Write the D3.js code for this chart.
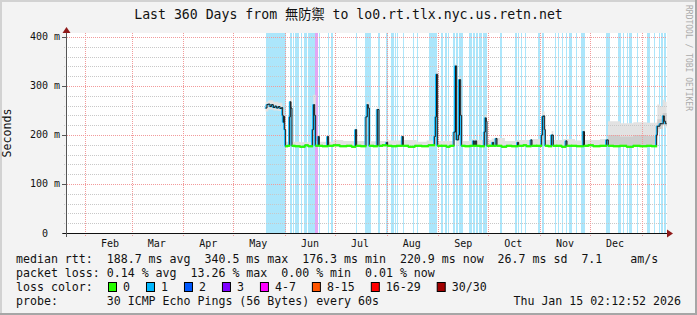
<!DOCTYPE html>
<html>
<head>
<meta charset="utf-8">
<script src="https://cdn.jsdelivr.net/npm/d3@7"></script>
<style>
  body { margin: 0; background: #f3f3f3; }
  svg { display: block; }
  text { font-family: "DejaVu Sans Mono", "Noto Sans CJK JP", monospace; fill: #111; white-space: pre; }
</style>
</head>
<body>
<div id="wrapper"></div>
<script>
// all times are day-of-year 2025 (Jan 1 = 0), values in ms
const title = "Last 360 Days from 無防禦 to lo0.rt.tlx.nyc.us.retn.net"
const yTicks = [0, 100, 200, 300, 400]
const yTickLabels = ["0", "100 m", "200 m", "300 m", "400 m"]
const monthLabels = ["Feb", "Mar", "Apr", "May", "Jun", "Jul", "Aug", "Sep", "Oct", "Nov", "Dec"]

// periods with 1 lost ping (light blue) and 4-7 lost (pink)
const lossBands1 = [
  [139.6, 151.6], [154, 155.2], [155.8, 156.4], [157, 158], [158.2, 159.4], [160.3, 161.4],
  [162.6, 163.6], [163.8, 164.4], [164.8, 169], [171.2, 172.2], [176.8, 177.6], [178.4, 179.6],
  [193.4, 194.4], [199, 202.6], [206.8, 208], [211.6, 212.8], [214.4, 216.6], [217, 217.8],
  [218.2, 219], [221.6, 222.4], [227.6, 228.4], [230, 230.8], [237.4, 242.4], [244.6, 246],
  [247, 248], [248.6, 249.4], [251.6, 252.8], [253.6, 254.8], [255.4, 257.8], [261.4, 263.2],
  [264, 265], [265.4, 266.8], [267.6, 269.2], [269.8, 272.4], [280, 281.2], [289, 290],
  [290.6, 291.4], [292.4, 293.2], [294.8, 295.8], [302.8, 304], [305.2, 306.4], [313, 313.8],
  [314.8, 315.6], [317.2, 318], [319.6, 320.4], [321.4, 323.2], [325.6, 326.4], [328.8, 331.2],
  [343.6, 346], [350.8, 352.6], [353.8, 354.6], [356.2, 357], [357.2, 359.2], [362.2, 363],
  [368.4, 370], [372.4, 373.2], [375.4, 376.2], [376.6, 377.8], [378.2, 379.4]
]
const lossBands4 = [[169, 170.8]]

// smoke: [day, min, max]
const smokeBand = [
  [139.4, 248, 268], [141, 252, 271], [144, 250, 268], [147, 249, 266], [149.4, 225, 252],
  [150.4, 205, 240], [151.4, 176, 186], [153.6, 176, 245], [154, 230, 276], [155.2, 176, 186],
  [160, 176, 185], [167.4, 190, 232], [168, 235, 282], [169.4, 176, 188], [171, 176, 200],
  [171.6, 176, 186], [176.6, 176, 200], [177.2, 176, 186], [180, 176, 190], [186, 176, 188],
  [193.4, 176, 215], [194, 176, 188], [199.6, 200, 245], [200.2, 240, 268], [201.6, 176, 187],
  [206.4, 220, 258], [207.4, 176, 188], [212, 176, 192], [213, 176, 189], [221.4, 176, 200],
  [222, 176, 190], [230, 176, 186], [236, 176, 189], [241.2, 200, 245], [241.8, 300, 332],
  [242.6, 176, 188], [252.4, 190, 215], [253.2, 310, 346], [254, 180, 200], [255.4, 290, 318],
  [256.4, 200, 250], [257, 176, 188], [263, 176, 192], [266, 176, 190], [270.6, 190, 215],
  [271.2, 225, 242], [272.2, 176, 190], [275, 176, 193], [278, 176, 194], [283, 176, 188],
  [290, 176, 190], [298, 176, 192], [305, 185, 215], [305.6, 225, 248], [306.8, 195, 220],
  [307.2, 176, 190], [311, 176, 208], [312, 176, 190], [318, 176, 192], [325, 176, 189],
  [330, 176, 212], [330.7, 176, 190], [340, 176, 192], [344.8, 176, 228], [352, 176, 224],
  [360, 176, 226], [368, 176, 225], [374, 190, 226], [374.4, 205, 262], [376, 215, 258],
  [377.6, 225, 272], [379, 215, 268], [380, 215, 268]
]
const smokeCore = [
  [344.8, 178, 200], [352, 178, 197], [360, 178, 200], [368, 178, 198], [374, 195, 205],
  [374.4, 212, 232], [377.6, 220, 245], [380, 220, 245]
]

// median rtt: [day, ms]
const medianRtt = [
  [139.4, 255], [140.2, 262], [141, 263], [142, 258], [143, 262], [144, 256], [145, 259],
  [146, 255], [147, 258], [148, 254], [149, 256], [149.6, 240], [150, 226], [150.4, 238],
  [150.8, 211], [151.4, 177], [152.6, 178],
  [153.8, 237], [154.2, 268], [154.6, 255], [155.2, 178], [157, 177], [160, 176], [163, 179], [165, 177],
  [167.6, 211], [168.2, 262], [168.8, 240], [169.4, 178], [171, 197], [171.6, 178], [173.5, 177],
  [176.6, 197], [177.2, 178], [180, 179], [184, 177], [188, 178], [191, 176],
  [193.4, 211], [194, 178], [196.5, 177], [199.6, 237], [200.4, 262], [201, 255], [201.6, 178], [204, 177],
  [206.4, 252], [207.4, 178], [209.5, 179], [212, 185], [212.6, 178], [215, 177], [218, 178],
  [221.4, 197], [222, 178], [225, 176], [229, 178], [233, 177], [237, 179],
  [240.8, 197], [241.4, 237], [241.9, 324], [242.6, 178], [245, 178], [248, 176], [250, 178],
  [252.4, 206], [253.3, 341], [254, 190], [255.2, 200], [255.7, 313], [256.4, 240], [257, 178],
  [259, 177], [262, 178], [264, 188], [264.6, 178], [265.4, 188], [266, 178], [268, 177],
  [270.6, 206], [271.2, 235], [271.8, 228], [272.2, 178], [274, 178], [275.6, 185], [276.2, 178],
  [277.6, 193], [278.2, 178], [281, 176], [284, 178], [287, 177], [290.6, 185], [291.2, 178],
  [294, 179], [296, 177], [298.6, 190], [299.2, 178], [302, 178],
  [305, 200], [305.6, 238], [306.2, 239], [306.8, 211], [307.2, 178], [309, 177],
  [311, 200], [312, 178], [314, 178], [317, 176], [319.6, 188], [320.2, 178], [323, 178], [326, 177],
  [330, 207], [330.7, 178], [333, 179], [336, 177], [340, 178], [344, 190], [345, 178],
  [348, 177], [352, 178], [356, 176], [360, 178], [364, 177], [368, 178], [371, 177],
  [374, 200], [374.4, 218], [376, 223], [377.6, 223], [378, 239], [378.6, 228], [379.4, 223], [380, 223]
]

const rttLine = "median rtt:  188.7 ms avg  340.5 ms max  176.3 ms min  220.9 ms now  26.7 ms sd  7.1    am/s"
const lossLine = "packet loss: 0.14 % avg  13.26 % max  0.00 % min  0.01 % now"
const lossLabels = ["0", "1", "2", "3", "4-7", "8-15", "16-29", "30/30"]
const lossColors = ["#26ff00", "#00b8ff", "#0059ff", "#7e00ff", "#ff00ff", "#ff5500", "#ff0000", "#a10000"]
const probeLine = "probe:       30 ICMP Echo Pings (56 Bytes) every 60s"
const stamp = "Thu Jan 15 02:12:52 2026"

async function drawChart() {

  const day = d => new Date(Date.UTC(2025, 0, 1) + d * 864e5)

  // 1. dimensions
  let dimensions = { width: 697, height: 315, left: 67, right: 667, top: 33, bottom: 233 }

  // 2. canvas
  const svg = d3.select("#wrapper").append("svg")
      .attr("width", dimensions.width)
      .attr("height", dimensions.height)

  svg.append("rect").attr("width", 697).attr("height", 315).attr("fill", "#f3f3f3")
  svg.append("rect").attr("x", 0).attr("y", 0).attr("width", 2).attr("height", 315).attr("fill", "#d2d2d2")
  svg.append("rect").attr("x", 0).attr("y", 0).attr("width", 697).attr("height", 2).attr("fill", "#d2d2d2")
  svg.append("rect").attr("x", 695).attr("y", 0).attr("width", 2).attr("height", 315).attr("fill", "#a6a6a6")
  svg.append("rect").attr("x", 0).attr("y", 313).attr("width", 697).attr("height", 2).attr("fill", "#a6a6a6")

  svg.append("rect")
      .attr("x", dimensions.left).attr("y", dimensions.top)
      .attr("width", dimensions.right - dimensions.left)
      .attr("height", dimensions.bottom - dimensions.top)
      .attr("fill", "#fff")

  // 3. scales
  const xScale = d3.scaleUtc()
      .domain([day(20.2), day(380.2)])
      .range([dimensions.left, dimensions.right])
  const yScale = d3.scaleLinear()
      .domain([0, 408.16])
      .range([dimensions.bottom, dimensions.top])
  const X = d => xScale(day(d))

  // 4. loss bands
  const drawBands = (bands, color) => svg.append("g").selectAll("rect")
      .data(bands).join("rect")
        .attr("x", d => Math.round(X(d[0])))
        .attr("width", d => Math.max(1, Math.round(X(d[1])) - Math.round(X(d[0]))))
        .attr("y", dimensions.top)
        .attr("height", dimensions.bottom - dimensions.top)
        .attr("fill", color)
  drawBands(lossBands1, "#ace6fb")
  drawBands(lossBands4, "#e2a6f4")

  // 5. smoke
  const smokeArea = d3.area()
      .curve(d3.curveStepAfter)
      .x(d => X(d[0]))
      .y0(d => yScale(d[1]))
      .y1(d => yScale(d[2]))
  svg.append("path").datum(smokeBand).attr("d", smokeArea).attr("fill", "#e2e2e2")
  svg.append("path").datum(smokeCore).attr("d", smokeArea).attr("fill", "#cdcdcd")

  // 6. grid
  const grid = svg.append("g")
  const minor = d3.range(20, 401, 20).filter(v => v % 100 != 0)
  grid.selectAll(".minor").data(minor).join("line")
      .attr("x1", 64).attr("x2", dimensions.right)
      .attr("y1", d => Math.round(yScale(d)) + 0.5).attr("y2", d => Math.round(yScale(d)) + 0.5)
      .attr("stroke", "#c8c8c8").attr("stroke-dasharray", "1,1")
  grid.selectAll(".major").data(yTicks.slice(1)).join("line")
      .attr("x1", dimensions.left).attr("x2", dimensions.right)
      .attr("y1", d => Math.round(yScale(d)) + 0.5).attr("y2", d => Math.round(yScale(d)) + 0.5)
      .attr("stroke", "#f29a9a").attr("stroke-dasharray", "1,1")
  grid.selectAll(".mtick").data(yTicks).join("line")
      .attr("x1", 62).attr("x2", 66)
      .attr("y1", d => Math.round(yScale(d)) + 0.5).attr("y2", d => Math.round(yScale(d)) + 0.5)
      .attr("stroke", "#555")

  const months = d3.utcMonth.range(day(20.2), day(380.2))
  grid.selectAll(".month").data(months).join("line")
      .attr("x1", d => Math.round(xScale(d)) + 0.5).attr("x2", d => Math.round(xScale(d)) + 0.5)
      .attr("y1", dimensions.top).attr("y2", dimensions.bottom + 4)
      .attr("stroke", "#f29a9a").attr("stroke-dasharray", "1,1")

  // 7. median line
  const line = d3.line()
      .curve(d3.curveStepAfter)
      .x(d => X(d[0]))
      .y(d => yScale(d[1]))
  svg.append("path").datum(medianRtt).attr("d", line)
      .attr("fill", "none").attr("stroke", "#00b8ff").attr("stroke-width", 1)
      .attr("transform", "translate(-1,0)")
  svg.append("path").datum(medianRtt).attr("d", line)
      .attr("fill", "none").attr("stroke", "#1a1a1a").attr("stroke-width", 1)
  const greens = d3.pairs(medianRtt).filter(([a]) => a[1] < 184)
  svg.append("g").selectAll("line").data(greens).join("line")
      .attr("x1", d => X(d[0][0]) - 0.5).attr("x2", d => X(d[1][0]) + 0.5)
      .attr("y1", d => yScale(d[0][1])).attr("y2", d => yScale(d[0][1]))
      .attr("stroke", "#26ff00").attr("stroke-width", 2.2)

  // 8. axes
  svg.append("line").attr("x1", 63).attr("x2", dimensions.right + 1)
      .attr("y1", dimensions.bottom + 0.5).attr("y2", dimensions.bottom + 0.5).attr("stroke", "#111")
  svg.append("line").attr("x1", 66.5).attr("x2", 66.5)
      .attr("y1", dimensions.bottom + 4).attr("y2", 30).attr("stroke", "#555")
  svg.append("path").attr("d", "M667,229.5L673,233.5L667,237.5Z").attr("fill", "#8f1a1a")
  svg.append("path").attr("d", "M62.5,33L66.5,27L70.5,33Z").attr("fill", "#8f1a1a")

  svg.append("g").selectAll("text").data(yTicks).join("text")
      .attr("x", d => d == 0 ? 48 : 60)
      .attr("y", d => yScale(d))
      .attr("dy", "0.35em")
      .attr("text-anchor", "end")
      .style("font-size", "10px")
      .text((d, i) => yTickLabels[i])

  svg.append("g").selectAll("text").data(months.slice(0, monthLabels.length)).join("text")
      .attr("x", d => xScale(d3.utcDay.offset(d, 15)))
      .attr("y", 247)
      .attr("text-anchor", "middle")
      .style("font-size", "10px")
      .text((d, i) => monthLabels[i])

  // 9. titles
  svg.append("text").attr("x", 348.5).attr("y", 19).attr("text-anchor", "middle")
      .style("font-size", "13.2px").text(title)
  svg.append("text").attr("transform", "translate(11,133) rotate(-90)").attr("text-anchor", "middle")
      .style("font-size", "11.6px").text("Seconds")
  svg.append("text").attr("transform", "translate(686,5) rotate(90)")
      .style("font-size", "8px").style("fill", "#aaa").text("RRDTOOL / TOBI OETIKER")

  // 10. legend
  const legend = svg.append("g").style("font-size", "11.6px")
  legend.append("text").attr("x", 16).attr("y", 263).text(rttLine)
  legend.append("text").attr("x", 16).attr("y", 277).text(lossLine)
  legend.append("text").attr("x", 16).attr("y", 291).text("loss color:")
  legend.append("text").attr("x", 16).attr("y", 305).text(probeLine)
  legend.append("text").attr("x", 681).attr("y", 305).attr("text-anchor", "end").text(stamp)

  let lx = 108
  lossLabels.forEach((lab, i) => {
    legend.append("rect").attr("x", lx + 0.5).attr("y", 282.5).attr("width", 8).attr("height", 9)
        .attr("fill", lossColors[i]).attr("stroke", "#000")
    const t = legend.append("text").attr("x", lx + 15).attr("y", 291).text(lab)
    lx += 15 + t.node().getComputedTextLength() + 16
  })
}

drawChart()
</script>
</body>
</html>
